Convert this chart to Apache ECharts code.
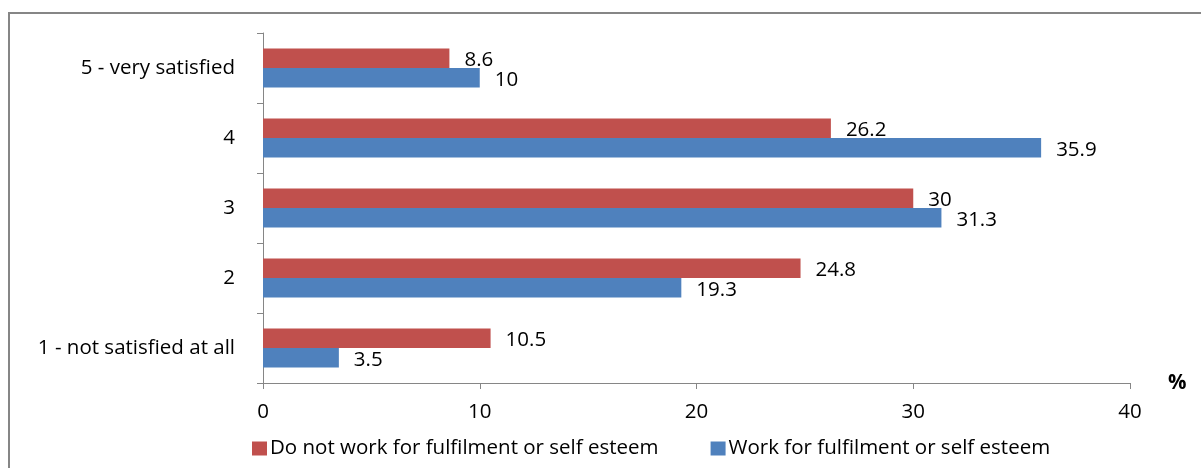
<!DOCTYPE html>
<html>
<head>
<meta charset="utf-8">
<title>Satisfaction by work motivation</title>
<script src="https://cdn.jsdelivr.net/npm/echarts@6/dist/echarts.min.js"></script>
<style>
  html, body { margin: 0; padding: 0; background: #ffffff; }
  #chart { width: 1201px; height: 468px; }
</style>
</head>
<body>
<div id="chart"></div>
<script>
// Satisfaction levels, listed from the bottom of the axis to the top
const categories = ['1 - not satisfied at all', '2', '3', '4', '5 - very satisfied'];

const seriesNames = ['Do not work for fulfilment or self esteem', 'Work for fulfilment or self esteem'];

// Share of respondents (%) at each satisfaction level
const doNotWorkForFulfilment = [10.5, 24.8, 30, 26.2, 8.6];
const workForFulfilment = [3.5, 19.3, 31.3, 35.9, 10];

const xTicks = { min: 0, max: 40, interval: 10 };

const FONT = '"Open Sans", "Noto Sans", sans-serif';
const FONT_SIZE = 20.5;
const RED = '#C0504D';
const BLUE = '#4F81BD';
const AXIS_GREY = '#868686';

const chart = echarts.init(document.getElementById('chart'), null, { renderer: 'canvas' });

const labelStyle = {
  show: true,
  position: 'right',
  distance: 15,
  color: '#000000',
  fontFamily: FONT,
  fontSize: FONT_SIZE,
  offset: [0, 2]
};

chart.setOption({
  animation: false,
  backgroundColor: '#ffffff',
  textStyle: { fontFamily: FONT },
  graphic: [{
    type: 'rect',
    shape: { x: 9, y: 13, width: 1300, height: 600 },
    style: { fill: 'none', stroke: AXIS_GREY, lineWidth: 2 },
    silent: true,
    z: -1
  }],
  grid: { left: 263, right: 71, top: 33, bottom: 85, containLabel: false },
  legend: {
    data: seriesNames,
    bottom: 4,
    left: 247,
    itemWidth: 15,
    itemHeight: 14,
    itemGap: 52,
    icon: 'rect',
    textStyle: { fontFamily: FONT, fontSize: FONT_SIZE, color: '#000000', padding: [0, 0, 0, -2] }
  },
  xAxis: {
    type: 'value',
    min: xTicks.min,
    max: xTicks.max,
    interval: xTicks.interval,
    name: '%',
    nameLocation: 'end',
    nameGap: 38,
    nameTextStyle: { fontFamily: FONT, fontSize: FONT_SIZE, fontWeight: 'bold', color: '#000000', verticalAlign: 'middle', padding: [0, 0, 4, 0] },
    axisLine: { show: true, lineStyle: { color: AXIS_GREY, width: 1 } },
    axisTick: { show: true, length: 6, lineStyle: { color: AXIS_GREY } },
    axisLabel: { color: '#000000', fontFamily: FONT, fontSize: FONT_SIZE, margin: 19 },
    splitLine: { show: false }
  },
  yAxis: {
    type: 'category',
    data: categories,
    axisLine: { show: true, lineStyle: { color: AXIS_GREY, width: 1 } },
    axisTick: { show: true, length: 6, alignWithLabel: false, lineStyle: { color: AXIS_GREY } },
    axisLabel: { color: '#000000', fontFamily: FONT, fontSize: FONT_SIZE, margin: 28 }
  },
  series: [
    {
      name: seriesNames[0],
      type: 'bar',
      data: doNotWorkForFulfilment,
      barGap: '0%',
      barCategoryGap: '44%',
      itemStyle: { color: RED },
      label: labelStyle
    },
    {
      name: seriesNames[1],
      type: 'bar',
      data: workForFulfilment,
      barGap: '0%',
      barCategoryGap: '44%',
      itemStyle: { color: BLUE },
      label: labelStyle
    }
  ]
});
</script>
</body>
</html>
